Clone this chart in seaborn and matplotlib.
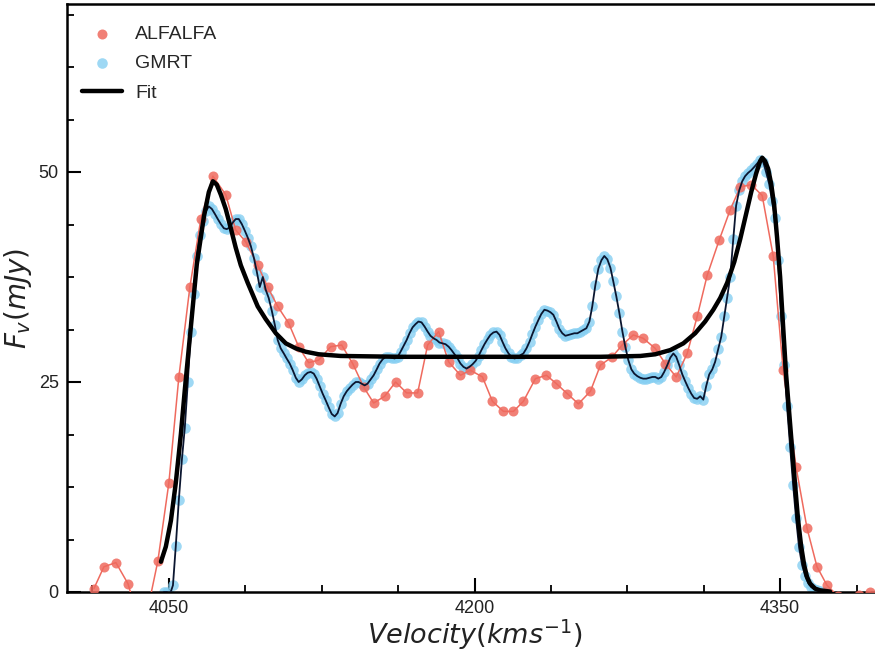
import pandas as pd
import seaborn as sns
import matplotlib.pyplot as plt
from matplotlib.ticker import MultipleLocator

# ALFALFA spectrum (km/s, mJy)
alfalfa_vel = [4013.2, 4018.1, 4024.0, 4029.9, 4034.8, 4039.7, 4044.6,
               4050.0, 4054.9, 4060.3, 4065.7, 4071.6, 4077.9, 4082.8, 4087.7, 4093.6, 4098.5,
               4103.4, 4108.8, 4113.7, 4118.6, 4123.5, 4129.4, 4134.8, 4140.2, 4145.6, 4150.5,
               4155.9, 4161.3, 4166.7, 4172.1, 4177.0, 4182.4, 4187.3, 4193.1, 4198.0, 4203.9,
               4208.8, 4214.2, 4219.1, 4224.0, 4229.9, 4235.3, 4240.2, 4245.6, 4251.0, 4256.9,
               4261.8, 4267.6, 4272.5, 4277.9, 4282.8, 4288.7, 4293.6, 4299.0, 4304.4, 4309.3,
               4314.2, 4320.1, 4325.5, 4330.4, 4335.8, 4341.2, 4346.6, 4351.5, 4357.8, 4363.2,
               4368.1, 4373.0, 4378.4, 4383.3, 4388.7, 4394.1]
alfalfa_flux = [0.4, 3.0, 3.5, 1.0, -3.0, -2.0, 3.7,
                13.0, 25.6, 36.3, 44.4, 49.5, 47.3, 43.1, 41.7, 38.9, 36.3,
                34.0, 32.0, 29.2, 27.3, 27.6, 29.2, 29.4, 27.2, 24.4, 22.5,
                23.3, 25.0, 23.7, 23.7, 29.4, 31.0, 27.4, 25.8, 26.4, 25.6,
                22.7, 21.5, 21.5, 22.7, 25.4, 25.8, 24.8, 23.6, 22.4, 23.9,
                27.0, 28.0, 29.4, 30.6, 30.2, 29.0, 27.2, 25.6, 28.4, 32.8,
                37.7, 41.9, 45.5, 48.2, 48.5, 47.2, 40.0, 26.4, 14.9, 7.6,
                3.0, 0.8, -0.5, -0.8, -0.4, 0.05]

# GMRT spectrum (km/s, mJy)
gmrt_vel = [4047.6, 4049.0, 4050.5, 4052.0, 4053.4, 4054.9, 4056.4, 4057.8, 4059.3, 4060.8,
            4062.3, 4063.7, 4065.2, 4066.7, 4068.1, 4069.6, 4071.1, 4072.6, 4074.0, 4075.5,
            4077.0, 4078.4, 4079.9, 4081.4, 4082.8, 4084.3, 4085.8, 4087.3, 4088.7, 4090.2,
            4091.7, 4093.1, 4094.6, 4096.1, 4097.5, 4099.0, 4100.5, 4102.0, 4103.4, 4104.9,
            4106.4, 4107.8, 4109.3, 4110.8, 4112.3, 4113.7, 4115.2, 4116.7, 4118.1, 4119.6,
            4121.1, 4122.5, 4124.0, 4125.5, 4127.0, 4128.4, 4129.9, 4131.4, 4132.8, 4134.3,
            4135.8, 4137.3, 4138.7, 4140.2, 4141.7, 4143.1, 4144.6, 4146.1, 4147.5, 4149.0,
            4150.5, 4152.0, 4153.4, 4154.9, 4156.4, 4157.8, 4159.3, 4160.8, 4162.3, 4163.7,
            4165.2, 4166.7, 4168.1, 4169.6, 4171.1, 4172.5, 4174.0, 4175.5, 4177.0, 4178.4,
            4179.9, 4181.4, 4182.8, 4184.3, 4185.8, 4187.3, 4188.7, 4190.2, 4191.7, 4193.1,
            4194.6, 4196.1, 4197.5, 4199.0, 4200.5, 4202.0, 4203.4, 4204.9, 4206.4, 4207.8,
            4209.3, 4210.8, 4212.3, 4213.7, 4215.2, 4216.7, 4218.1, 4219.6, 4221.1, 4222.6,
            4224.0, 4225.5, 4227.0, 4228.4, 4229.9, 4231.4, 4232.8, 4234.3, 4235.8, 4237.3,
            4238.7, 4240.2, 4241.7, 4243.1, 4244.6, 4246.1, 4247.5, 4249.0, 4250.5, 4252.0,
            4253.4, 4254.9, 4256.4, 4257.8, 4259.3, 4260.8, 4262.3, 4263.7, 4265.2, 4266.7,
            4268.1, 4269.6, 4271.1, 4272.6, 4274.0, 4275.5, 4277.0, 4278.4, 4279.9, 4281.4,
            4282.8, 4284.3, 4285.8, 4287.3, 4288.7, 4290.2, 4291.7, 4293.1, 4294.6, 4296.1,
            4297.6, 4299.0, 4300.5, 4302.0, 4303.4, 4304.9, 4306.4, 4307.8, 4309.3, 4310.8,
            4312.3, 4313.7, 4315.2, 4316.7, 4318.1, 4319.6, 4321.1, 4322.6, 4324.0, 4325.5,
            4327.0, 4328.4, 4329.9, 4331.4, 4332.8, 4334.3, 4335.8, 4337.3, 4338.7, 4340.2,
            4341.7, 4343.1, 4344.6, 4346.1, 4347.5, 4349.0, 4350.5, 4352.0, 4353.4, 4354.9,
            4356.4, 4357.8, 4359.3, 4360.8, 4362.3, 4363.7, 4365.2, 4366.7, 4368.1, 4369.6,
            4371.1, 4372.5]
gmrt_flux = [0.0, 0.0, -0.3, 0.8, 5.5, 11.0, 15.8, 19.5, 25.0, 31.0,
             35.5, 40.0, 42.5, 44.2, 45.3, 45.9, 45.6, 45.0, 44.4, 43.8,
             43.3, 43.2, 43.4, 44.0, 44.4, 44.4, 43.8, 43.0, 42.2, 41.2,
             39.8, 38.2, 36.3, 37.5, 36.0, 35.0, 33.5, 31.8, 30.0, 29.0,
             28.4, 27.8, 27.2, 26.4, 25.5, 25.0, 25.3, 25.8, 26.1, 26.2,
             26.0, 25.4, 24.5, 23.6, 22.8, 22.0, 21.2, 20.9, 21.3, 22.4,
             23.3, 23.9, 24.3, 24.7, 25.0, 25.0, 24.8, 24.6, 24.8, 25.3,
             25.8, 26.5, 27.2, 27.7, 28.0, 28.0, 27.9, 27.8, 28.0, 28.6,
             29.3, 30.0, 30.8, 31.5, 31.9, 32.2, 32.1, 31.6, 31.0, 30.5,
             30.2, 30.0, 29.7, 29.6, 29.5, 29.2, 28.8, 28.3, 27.8, 27.2,
             26.8, 26.6, 26.8, 27.1, 27.5, 28.1, 28.8, 29.5, 30.1, 30.6,
             30.9, 31.0, 30.6, 29.8, 29.0, 28.4, 28.0, 27.8, 27.9, 28.2,
             28.4, 29.0, 29.8, 30.7, 31.6, 32.4, 33.1, 33.6, 33.5, 33.3,
             33.0, 32.2, 31.3, 30.8, 30.5, 30.6, 30.7, 30.8, 30.8, 31.0,
             31.2, 31.4, 32.2, 34.0, 36.5, 38.5, 39.5, 40.0, 39.6, 38.6,
             37.0, 35.2, 33.2, 31.0, 29.2, 27.6, 26.5, 26.0, 25.7, 25.5,
             25.4, 25.4, 25.5, 25.6, 25.6, 25.4, 25.6, 26.2, 27.0, 27.9,
             28.4, 28.0, 27.0, 25.9, 25.1, 24.3, 23.6, 23.1, 23.0, 23.3,
             22.9, 24.5, 25.9, 26.5, 27.4, 28.9, 30.4, 32.8, 35.0, 37.5,
             42.0, 46.0, 47.8, 48.9, 49.5, 49.9, 50.2, 50.6, 51.0, 51.4,
             51.2, 50.0, 48.6, 46.5, 44.5, 39.5, 32.8, 27.0, 22.1, 17.3,
             12.7, 8.8, 5.3, 3.2, 1.9, 1.1, 0.6, 0.35, 0.2, 0.1,
             0.05, 0.0]

# model fit (km/s, mJy)
fit_vel = [4046.1, 4048.5, 4051.0, 4053.4, 4055.9, 4057.8, 4060.8, 4063.7, 4067.2, 4069.6,
           4071.6, 4073.5, 4075.5, 4077.9, 4080.4, 4082.8, 4085.3, 4088.7, 4093.6, 4097.5,
           4102.5, 4107.4, 4112.3, 4117.2, 4123.5, 4134.3, 4163.7, 4212.7, 4261.8, 4281.4,
           4288.7, 4296.1, 4302.5, 4308.3, 4313.2, 4317.2, 4320.6, 4324.0, 4327.5, 4330.4,
           4333.3, 4335.8, 4338.2, 4340.2, 4341.2, 4342.6, 4344.1, 4345.6, 4347.1, 4348.5,
           4350.0, 4351.5, 4352.9, 4354.4, 4355.9, 4357.4, 4358.8, 4360.3, 4361.8, 4363.2,
           4364.7, 4367.2, 4369.6, 4374.5]
fit_flux = [3.6, 5.4, 8.5, 13.0, 18.8, 24.0, 31.6, 39.0, 44.7, 47.6,
            48.9, 48.5, 47.3, 45.6, 43.3, 41.0, 38.9, 36.8, 34.0, 32.5,
            30.8, 29.6, 29.0, 28.6, 28.3, 28.1, 28.0, 28.0, 28.0, 28.1,
            28.3, 28.8, 29.6, 30.8, 32.2, 33.6, 35.0, 36.8, 39.3, 42.0,
            45.0, 47.6, 49.8, 51.3, 51.7, 51.3, 50.4, 48.6, 46.0, 42.2,
            37.5, 31.5, 26.0, 21.5, 17.0, 12.6, 8.6, 5.5, 3.2, 1.8,
            1.0, 0.4, 0.2, 0.05]

x_limits = (4000, 4400)
y_limits = (0, 70)

RED = '#ef6a5e'
BLUE = '#86cff2'

sns.set_style('white')
plt.rcParams['font.family'] = ['Liberation Sans', 'DejaVu Sans']
plt.rcParams['mathtext.fontset'] = 'dejavusans'

alfalfa = pd.DataFrame({'vel': alfalfa_vel, 'flux': alfalfa_flux})
gmrt = pd.DataFrame({'vel': gmrt_vel, 'flux': gmrt_flux})
fit = pd.DataFrame({'vel': fit_vel, 'flux': fit_flux})

fig = plt.figure(figsize=(8.75, 6.56), dpi=100)
ax = fig.add_axes([67 / 875, 64 / 656, 815 / 875, 588 / 656])

sns.scatterplot(data=gmrt, x='vel', y='flux', ax=ax, color=BLUE, s=58, linewidth=0,
                alpha=0.8, label='GMRT', zorder=2)
sns.lineplot(data=alfalfa, x='vel', y='flux', ax=ax, color=RED, lw=1.1, sort=False,
             estimator=None, zorder=3, legend=False)
sns.scatterplot(data=alfalfa, x='vel', y='flux', ax=ax, color=RED, s=52, linewidth=0,
                alpha=0.85, label='ALFALFA', zorder=3)
sns.lineplot(data=gmrt, x='vel', y='flux', ax=ax, color='#0b1630', lw=1.3, sort=False,
             estimator=None, zorder=4, legend=False)
sns.lineplot(data=fit, x='vel', y='flux', ax=ax, color='black', lw=3.2, sort=False,
             estimator=None, zorder=5, label='Fit')

ax.set_xlim(*x_limits)
ax.set_ylim(*y_limits)
ax.xaxis.set_major_locator(MultipleLocator(150))
ax.xaxis.set_minor_locator(MultipleLocator(37.5))
ax.yaxis.set_major_locator(MultipleLocator(25))
ax.yaxis.set_minor_locator(MultipleLocator(6.25))

ax.tick_params(which='both', direction='in', bottom=True, left=True, top=False, right=False,
               color='black')
ax.tick_params(which='major', length=10, width=1.5, labelsize=13, pad=6, labelcolor='#222222')
ax.tick_params(which='minor', length=5, width=1.3)

for side in ['left', 'bottom', 'top']:
    ax.spines[side].set_linewidth(1.8)
    ax.spines[side].set_color('black')
ax.spines['right'].set_visible(False)

ax.set_xlabel(r'$Velocity(kms^{-1})$', fontsize=19.5, labelpad=0, color='#222222')
ax.set_ylabel(r'$F_{v}(mJy)$', fontsize=20, labelpad=3, color='#222222')

handles, labels = ax.get_legend_handles_labels()
order = [labels.index(name) for name in ['ALFALFA', 'GMRT', 'Fit']]
ax.legend([handles[i] for i in order], [labels[i] for i in order], loc='upper left',
          bbox_to_anchor=(-0.008, 1.0), frameon=False, fontsize=14, handlelength=2.05,
          handletextpad=0.7, labelspacing=0.6, borderaxespad=0.7)

fig.savefig('out.png', dpi=100)
